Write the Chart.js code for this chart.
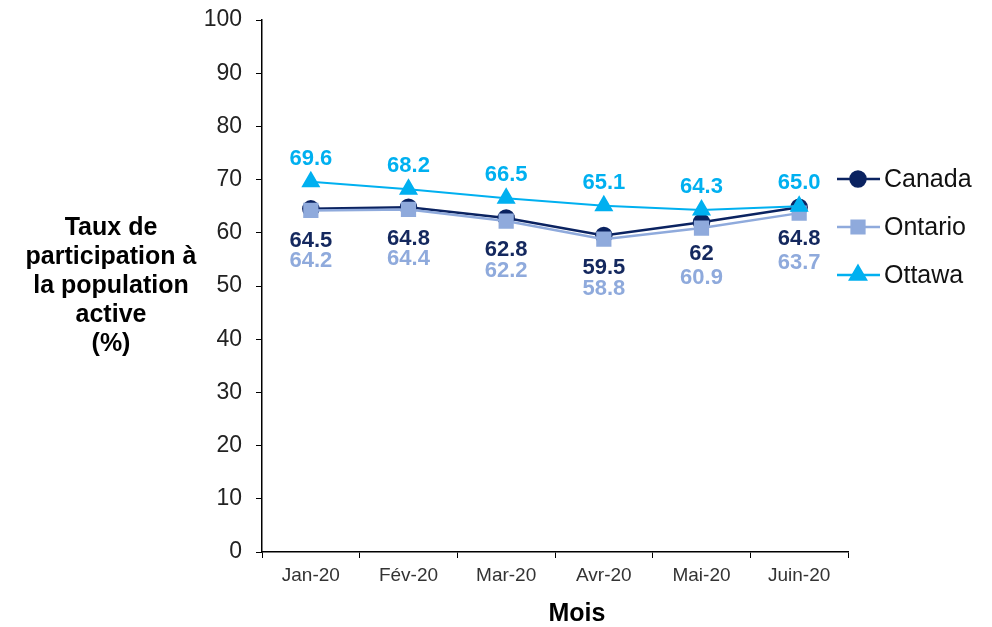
<!DOCTYPE html>
<html>
<head>
<meta charset="utf-8">
<script src="https://cdn.jsdelivr.net/npm/chart.js@4.4.0/dist/chart.umd.min.js"></script>
<style>
  html, body { margin: 0; padding: 0; background: #fff; }
  #cntr { width: 992px; height: 627px; }
</style>
</head>
<body>
<div id="cntr"><canvas id="myChart" width="992" height="627"></canvas></div>
<script>
// Données
const mois = ['Jan-20', 'Fév-20', 'Mar-20', 'Avr-20', 'Mai-20', 'Juin-20'];
const canada = [64.5, 64.8, 62.8, 59.5, 62, 64.8];
const ontario = [64.2, 64.4, 62.2, 58.8, 60.9, 63.7];
const ottawa = [69.6, 68.2, 66.5, 65.1, 64.3, 65.0];
const titreY = ['Taux de', 'participation à', 'la population', 'active', '(%)'];
const titreX = 'Mois';

// Couleurs
const bleuFonce = '#0B2361';
const bleuClair = '#8FAADC';
const bleuCiel = '#00B0F0';

// Étiquettes des points, décalage vertical par série
const etiquettes = [
  { dy: 32, fmt: v => String(v), color: '#14285E' },
  { dy: 50, fmt: v => String(v), color: bleuClair },
  { dy: -23, fmt: v => v.toFixed(1), color: bleuCiel }
];

const pluginTextes = {
  id: 'textes',
  afterDatasetsDraw(chart) {
    const ctx = chart.ctx;
    ctx.save();
    // valeurs
    ctx.font = 'bold 22px "Liberation Sans", Arial, sans-serif';
    ctx.textAlign = 'center';
    ctx.textBaseline = 'middle';
    chart.data.datasets.forEach((ds, i) => {
      const meta = chart.getDatasetMeta(i);
      const e = etiquettes[i];
      ctx.fillStyle = e.color;
      meta.data.forEach((pt, j) => {
        ctx.fillText(e.fmt(ds.data[j]), pt.x, pt.y + e.dy);
      });
    });

    // titre axe Y (horizontal)
    ctx.fillStyle = '#000';
    ctx.font = 'bold 25px "Liberation Sans", Arial, sans-serif';
    titreY.forEach((t, i) => ctx.fillText(t, 111, 228 + i * 29));

    // titre axe X
    ctx.fillText(titreX, 577, 614);

    // légende
    ctx.textAlign = 'left';
    ctx.font = '25px "Liberation Sans", Arial, sans-serif';
    chart.data.datasets.forEach((ds, i) => {
      const y = 179 + i * 48;
      ctx.strokeStyle = ds.borderColor;
      ctx.fillStyle = ds.backgroundColor;
      ctx.lineWidth = 2.5;
      ctx.beginPath();
      ctx.moveTo(837, y);
      ctx.lineTo(880, y);
      ctx.stroke();
      Chart.helpers.drawPoint(ctx, {
        pointStyle: ds.pointStyle, radius: ds.pointRadius, borderWidth: 1, rotation: 0
      }, 858, y);
      ctx.fillStyle = '#111';
      ctx.fillText(ds.label, 884, y + 1);
    });
    ctx.restore();
  }
};

const ctx = document.getElementById('myChart');
new Chart(ctx, {
  type: 'line',
  data: {
    labels: mois,
    datasets: [
      {
        label: 'Canada', data: canada, order: 3,
        borderColor: bleuFonce, backgroundColor: bleuFonce,
        borderWidth: 2.5, pointStyle: 'circle', pointRadius: 7.5
      },
      {
        label: 'Ontario', data: ontario, order: 2,
        borderColor: bleuClair, backgroundColor: bleuClair,
        borderWidth: 2.5, pointStyle: 'rect', pointRadius: 9
      },
      {
        label: 'Ottawa', data: ottawa, order: 1,
        borderColor: bleuCiel, backgroundColor: bleuCiel,
        borderWidth: 2, pointStyle: 'triangle', pointRadius: 9
      }
    ]
  },
  options: {
    responsive: false,
    animation: false,
    layout: { padding: { top: 20, right: 144, left: 0, bottom: 0 } },
    plugins: {
      legend: { display: false },
      tooltip: { enabled: false }
    },
    elements: { line: { tension: 0 }, point: { borderWidth: 1 } },
    scales: {
      x: {
        offset: true,
        afterFit: s => { s.height = 75; s.paddingLeft = 0; s.paddingRight = 0; },
        grid: { display: true, drawOnChartArea: false, offset: true, tickLength: 6, color: '#000' },
        border: { color: '#000', width: 1.5 },
        ticks: { color: '#333', padding: 6, font: { family: '"Liberation Sans", Arial', size: 19 } }
      },
      y: {
        min: 0, max: 100,
        afterFit: s => { s.width = 262; s.paddingTop = 0; s.paddingBottom = 0; },
        grid: { display: true, drawOnChartArea: false, tickLength: 6, color: '#000' },
        border: { color: '#000', width: 1.5 },
        ticks: { stepSize: 10, color: '#222', padding: 14, font: { family: '"Liberation Sans", Arial', size: 23 } }
      }
    }
  },
  plugins: [pluginTextes]
});
</script>
</body>
</html>
